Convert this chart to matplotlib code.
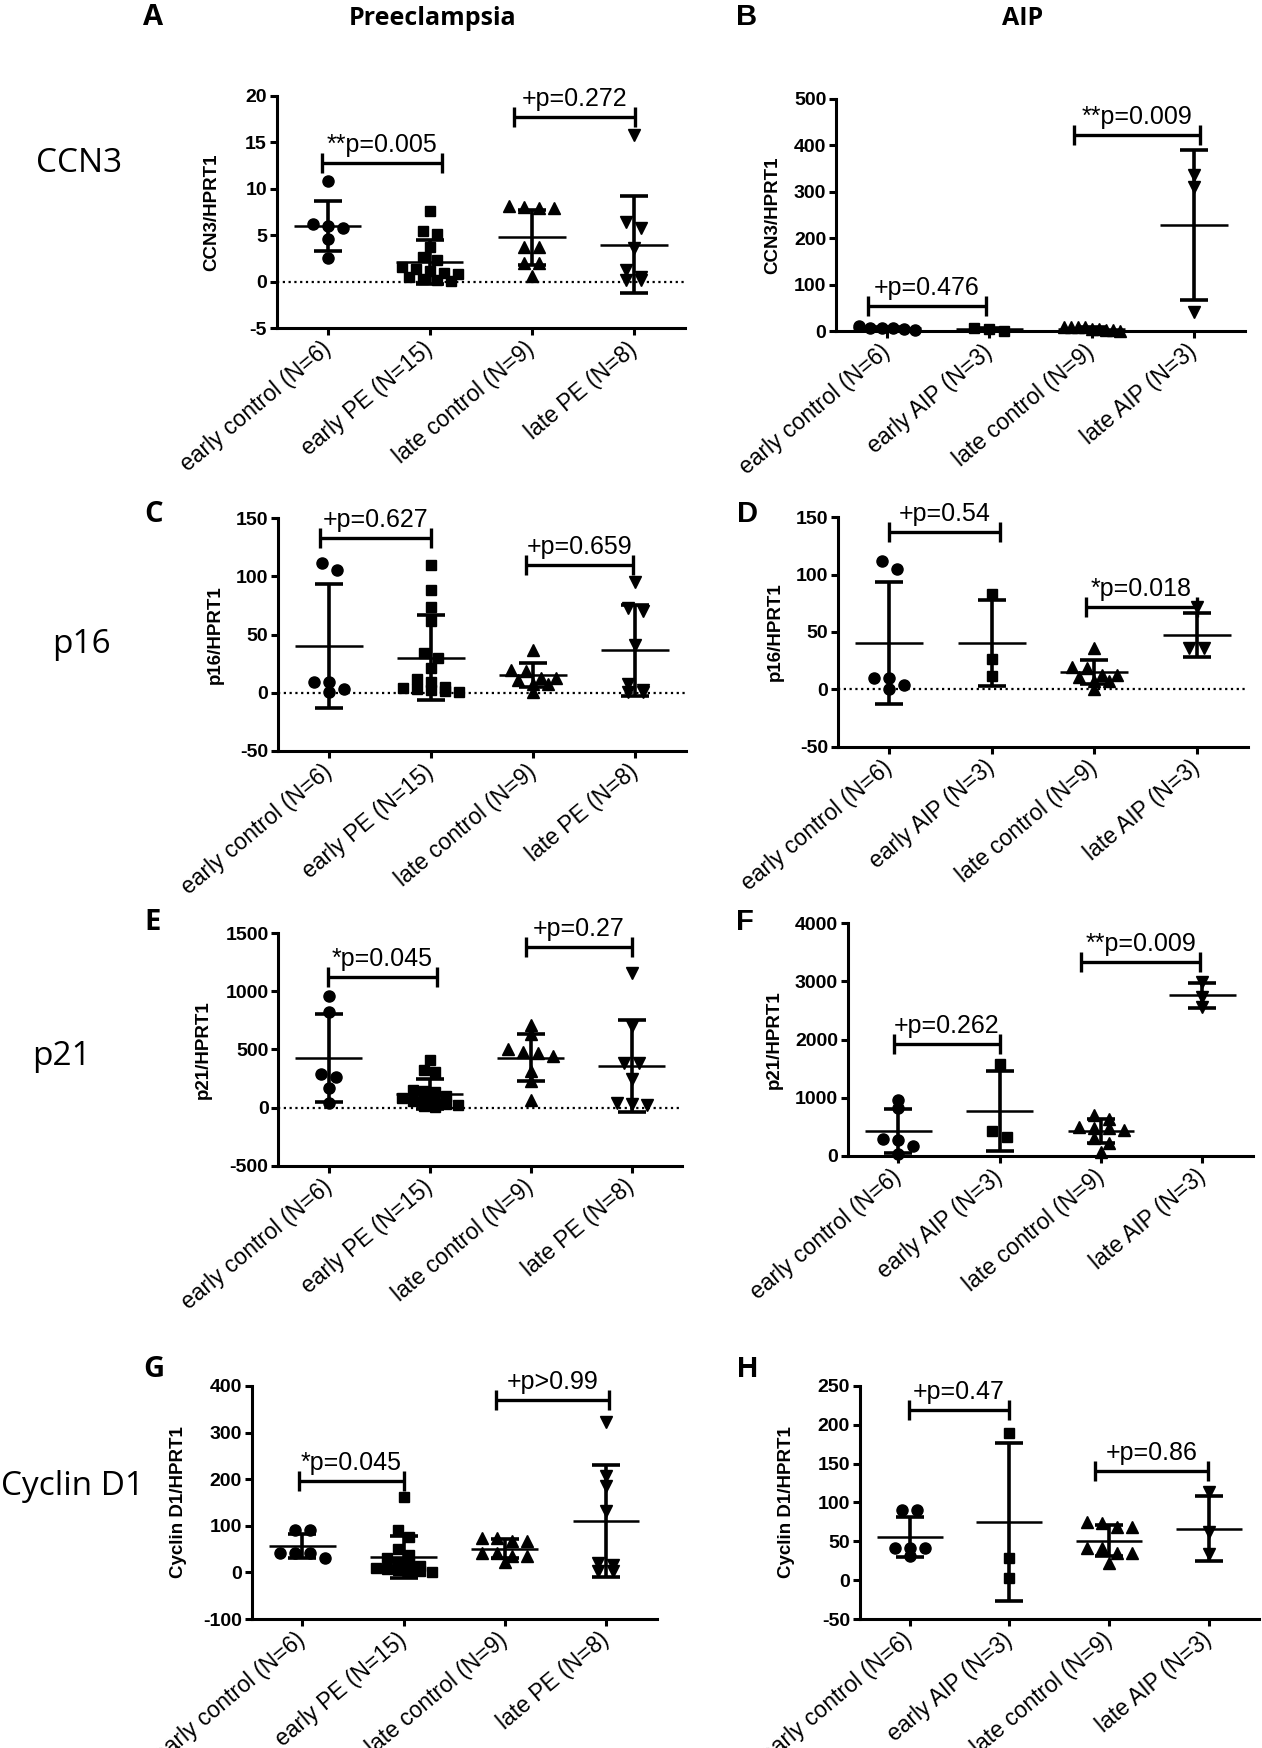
import numpy as np
import matplotlib
matplotlib.use("Agg")
import matplotlib.pyplot as plt

plt.rcParams['font.family'] = ['Liberation Sans', 'DejaVu Sans']
plt.rcParams['axes.unicode_minus'] = False

W, H = 1262, 1748

# ---- values ----
pe_groups = ["early control (N=6)", "early PE (N=15)", "late control (N=9)", "late PE (N=8)"]
aip_groups = ["early control (N=6)", "early AIP (N=3)", "late control (N=9)", "late AIP (N=3)"]

# CCN3/HPRT1
ccn3_early_ctrl = [10.8, 6.2, 6.0, 5.8, 4.6, 2.6]
ccn3_early_pe = [7.6, 5.5, 5.2, 3.7, 2.7, 2.3, 1.6, 1.4, 1.2, 1.0, 0.8, 0.5, 0.3, 0.2, 0.1]
ccn3_late_ctrl = [8.2, 8.1, 8.0, 8.0, 3.8, 3.8, 2.0, 2.0, 0.6]
ccn3_late_pe = [15.8, 6.4, 5.8, 3.6, 1.25, 0.55, 0.2, 0.2]
ccn3_early_aip = [5.6, 5.2, 0.3]
ccn3_late_aip = [335.7, 310.6, 41.6]
ccn3_pe_mean = [6.0, 2.15, 4.8, 4.0]
ccn3_pe_sd = [2.7, 2.35, 2.95, 5.25]
ccn3_aip_mean = [6.0, 3.7, 4.8, 227.4]
ccn3_aip_sd = [2.7, 3.0, 2.95, 161.4]
ccn3_pe_p = ["**p=0.005", "+p=0.272"]
ccn3_aip_p = ["+p=0.476", "**p=0.009"]

# p16/HPRT1
p16_early_ctrl = [111.5, 105.2, 9.7, 9.7, 3.4, 0.6]
p16_early_pe = [109.5, 88, 74, 61.5, 34, 30, 21.5, 11.5, 9, 5, 4, 3, 2, 1.5, 1]
p16_late_ctrl = [36.4, 19.2, 18.6, 12.9, 12.9, 10.6, 7.2, 7.2, 0.5]
p16_late_pe = [95, 73, 70, 41, 8, 2, 0.5, 0.5]
p16_early_aip = [82.8, 26.5, 11.6]
p16_late_aip = [72.0, 35.8, 35.8]
p16_pe_mean = [40.3, 30.1, 15.2, 36.4]
p16_pe_sd = [53.2, 36.4, 10.3, 39.2]
p16_aip_mean = [40.3, 40.7, 15.2, 47.4]
p16_aip_sd = [53.2, 37.4, 10.3, 19.5]
p16_pe_p = ["+p=0.627", "+p=0.659"]
p16_aip_p = ["+p=0.54", "*p=0.018"]

# p21/HPRT1
p21_early_ctrl = [964, 826, 290, 267, 166, 37]
p21_early_pe = [410, 324, 310, 152, 140, 138, 100, 80, 60, 57, 40, 30, 20, 10, 5]
p21_late_ctrl = [711, 631, 505, 480, 473, 445, 316, 232, 66]
p21_late_pe = [1162, 703, 387, 380, 247, 37, 30, 23]
p21_early_aip = [1576, 430, 332]
p21_late_aip = [2997, 2739, 2556]
p21_pe_mean = [425, 118, 430, 359]
p21_pe_sd = [377, 129, 201, 397]
p21_aip_mean = [425, 779, 430, 2762]
p21_aip_sd = [377, 687, 201, 210]
p21_pe_p = ["*p=0.045", "+p=0.27"]
p21_aip_p = ["+p=0.262", "**p=0.009"]

# Cyclin D1/HPRT1
cyc_early_ctrl = [90, 90, 41.6, 41.6, 41.6, 31]
cyc_early_pe = [162, 92, 75, 50, 38, 30, 22, 18, 14, 10, 7, 5, 3, 2, 1]
cyc_late_ctrl = [74.6, 73.4, 68, 68, 41.6, 41.6, 35, 35, 22]
cyc_late_pe = [322, 206, 186, 131, 20, 16.5, 2, 2]
cyc_early_aip = [190, 28.8, 3.4]
cyc_late_aip = [113.7, 62.2, 33.5]
cyc_pe_mean = [55.8, 33, 50.8, 109.4]
cyc_pe_sd = [25.7, 45.7, 20.3, 120]
cyc_aip_mean = [55.8, 74.7, 50.8, 66.5]
cyc_aip_sd = [25.7, 101.5, 20.3, 41.4]
cyc_pe_p = ["*p=0.045", "+p>0.99"]
cyc_aip_p = ["+p=0.47", "+p=0.86"]

markers = ['o', 's', '^', 'v']
msizes = [8, 7.5, 8.5, 8.5]

# panel layout in pixels: (left, top, right, bottom) of the axes box
panels = [
    dict(rect=(276.7, 96, 685, 328.3), ylabel='CCN3/HPRT1', ylim=(-5, 20), step=5,
         groups=pe_groups, vals=[ccn3_early_ctrl, ccn3_early_pe, ccn3_late_ctrl, ccn3_late_pe],
         mean=ccn3_pe_mean, sd=ccn3_pe_sd, pvals=ccn3_pe_p,
         br=[(-0.06, 1.12, 12.8), (1.82, 3.01, 17.7)], zero=True, yoff=65),
    dict(rect=(836, 98.7, 1245, 331), ylabel='CCN3/HPRT1', ylim=(0, 500), step=100,
         groups=aip_groups, vals=[ccn3_early_ctrl, ccn3_early_aip, ccn3_late_ctrl, ccn3_late_aip],
         mean=ccn3_aip_mean, sd=ccn3_aip_sd, pvals=ccn3_aip_p,
         br=[(-0.19, 0.97, 54.5), (1.83, 3.06, 421.8)], zero=False, yoff=63),
    dict(rect=(278, 518.3, 686, 751), ylabel='p16/HPRT1', ylim=(-50, 150), step=50,
         groups=pe_groups, vals=[p16_early_ctrl, p16_early_pe, p16_late_ctrl, p16_late_pe],
         mean=p16_pe_mean, sd=p16_pe_sd, pvals=p16_pe_p,
         br=[(-0.09, 1.0, 133), (1.93, 2.98, 110)], zero=True, yoff=63),
    dict(rect=(838, 517.3, 1248, 746.7), ylabel='p16/HPRT1', ylim=(-50, 150), step=50,
         groups=aip_groups, vals=[p16_early_ctrl, p16_early_aip, p16_late_ctrl, p16_late_aip],
         mean=p16_aip_mean, sd=p16_aip_sd, pvals=p16_aip_p,
         br=[(0.0, 1.08, 137.5), (1.92, 3.0, 72)], zero=True, yoff=63),
    dict(rect=(278.3, 933.3, 682, 1165.7), ylabel='p21/HPRT1', ylim=(-500, 1500), step=500,
         groups=pe_groups, vals=[p21_early_ctrl, p21_early_pe, p21_late_ctrl, p21_late_pe],
         mean=p21_pe_mean, sd=p21_pe_sd, pvals=p21_pe_p,
         br=[(-0.01, 1.07, 1122), (1.95, 3.0, 1380)], zero=True, yoff=75),
    dict(rect=(847.7, 923.3, 1253, 1156), ylabel='p21/HPRT1', ylim=(0, 4000), step=1000,
         groups=aip_groups, vals=[p21_early_ctrl, p21_early_aip, p21_late_ctrl, p21_late_aip],
         mean=p21_aip_mean, sd=p21_aip_sd, pvals=p21_aip_p,
         br=[(-0.04, 1.0, 1920), (1.80, 2.98, 3330)], zero=False, yoff=73),
    dict(rect=(251.8, 1386, 656.5, 1619), ylabel='Cyclin D1/HPRT1', ylim=(-100, 400), step=100,
         groups=pe_groups, vals=[cyc_early_ctrl, cyc_early_pe, cyc_late_ctrl, cyc_late_pe],
         mean=cyc_pe_mean, sd=cyc_pe_sd, pvals=cyc_pe_p,
         br=[(-0.03, 1.0, 196.7), (1.91, 3.03, 370.5)], zero=False, yoff=73),
    dict(rect=(859.7, 1386, 1259, 1619), ylabel='Cyclin D1/HPRT1', ylim=(-50, 250), step=50,
         groups=aip_groups, vals=[cyc_early_ctrl, cyc_early_aip, cyc_late_ctrl, cyc_late_aip],
         mean=cyc_aip_mean, sd=cyc_aip_sd, pvals=cyc_aip_p,
         br=[(-0.01, 1.0, 219), (1.86, 2.99, 140.3)], zero=False, yoff=73),
]


def swarm(ax, x0, vals, dx_px=15, dy_px=8, max_px=28):
    # GraphPad-like scatter: points with close values share a row, rows are centred
    tr = ax.transData.transform
    unit = tr((1, 0))[0] - tr((0, 0))[0]
    ypx = np.array([tr((0, v))[1] for v in vals])
    order = np.argsort(ypx)[::-1]
    offs = np.zeros(len(vals))
    row = [order[0]]
    rows = []
    for i in order[1:]:
        if ypx[row[0]] - ypx[i] < dy_px:
            row.append(i)
        else:
            rows.append(row)
            row = [i]
    rows.append(row)
    for row in rows:
        n = len(row)
        for j, i in enumerate(row):
            offs[i] = (j - (n - 1) / 2) * dx_px
    m = np.abs(offs).max()
    if m > max_px:
        offs *= max_px / m
    return x0 + offs / unit


fig = plt.figure(figsize=(W / 100, H / 100), dpi=100)

for p in panels:
    l, t, r, b = p['rect']
    ax = fig.add_axes([l / W, 1 - b / H, (r - l) / W, (b - t) / H])
    ax.set_xlim(-0.5, 3.5)
    ax.set_ylim(*p['ylim'])
    ax.set_yticks(np.arange(p['ylim'][0], p['ylim'][1] + p['step'] / 2, p['step']))
    ax.set_xticks(range(4))
    ax.set_xticklabels(p['groups'], rotation=40, ha='right', va='center',
                       rotation_mode='anchor', fontsize=16.5)
    for s in ['top', 'right']:
        ax.spines[s].set_visible(False)
    for s in ['left', 'bottom']:
        ax.spines[s].set_linewidth(2.2)
    ax.tick_params(axis='y', width=2.2, length=5, labelsize=14, pad=2)
    ax.tick_params(axis='x', width=2.2, length=5, pad=8)
    for lbl in ax.get_yticklabels():
        lbl.set_fontweight('bold')
    ax.set_ylabel(p['ylabel'], fontsize=13.5, fontweight='bold', va='center')
    ax.yaxis.set_label_coords(-p['yoff'] / (r - l), 0.5)

    if p['zero']:
        ax.axhline(0, color='k', lw=1.6, ls=(0, (1, 1.6)), zorder=1)

    for i, v in enumerate(p['vals']):
        xs = swarm(ax, i, v)
        ax.plot(xs, v, ls='none', marker=markers[i], ms=msizes[i], color='k',
                mec='k', clip_on=False, zorder=3)

    x = np.arange(4)
    ax.hlines(p['mean'], x - 0.33, x + 0.33, color='k', lw=1.8, zorder=4)
    ax.errorbar(x, p['mean'], yerr=p['sd'], fmt='none', ecolor='k', elinewidth=2.6,
                capsize=10, capthick=2.6, zorder=4)

    # significance brackets
    tr = ax.transData.transform
    upx = tr((0, 1))[1] - tr((0, 0))[1]
    dy = 10 / upx
    for (x0, x1, y), txt in zip(p['br'], p['pvals']):
        kw = dict(color='k', lw=2.4, clip_on=False, solid_capstyle='butt', zorder=5)
        ax.plot([x0, x1], [y, y], **kw)
        ax.plot([x0, x0], [y - dy, y + dy], **kw)
        ax.plot([x1, x1], [y - dy, y + dy], **kw)
        ax.annotate(txt, xy=((x0 + x1) / 2, y), xytext=(0, 8), textcoords='offset points',
                    ha='center', va='baseline', fontsize=18)

# panel letters and headers
calibri_like = ['Open Sans', 'DejaVu Sans']
for txt, x, y, fam, fs in [('A', 153, 25, calibri_like, 21), ('B', 747, 25, None, 21),
                           ('C', 154, 521.7, calibri_like, 21), ('D', 747.5, 521.7, None, 21),
                           ('E', 153, 930, calibri_like, 21), ('F', 745, 930, None, 21),
                           ('G', 154, 1376.7, calibri_like, 21), ('H', 747.5, 1376.7, None, 21),
                           ('Preeclampsia', 433, 25, calibri_like, 18), ('AIP', 1023, 25, calibri_like, 18)]:
    kw = dict(ha='center', va='baseline', fontsize=fs, fontweight='bold')
    if fam:
        kw['family'] = fam
    fig.text(x / W, 1 - y / H, txt, **kw)

for txt, x, y in [('CCN3', 78.8, 171.7), ('p16', 81.8, 653), ('p21', 61.8, 1065), ('Cyclin D1', 72.5, 1495)]:
    fig.text(x / W, 1 - y / H, txt, ha='center', va='baseline', fontsize=24, family=calibri_like)

fig.savefig('out.png', dpi=100)
